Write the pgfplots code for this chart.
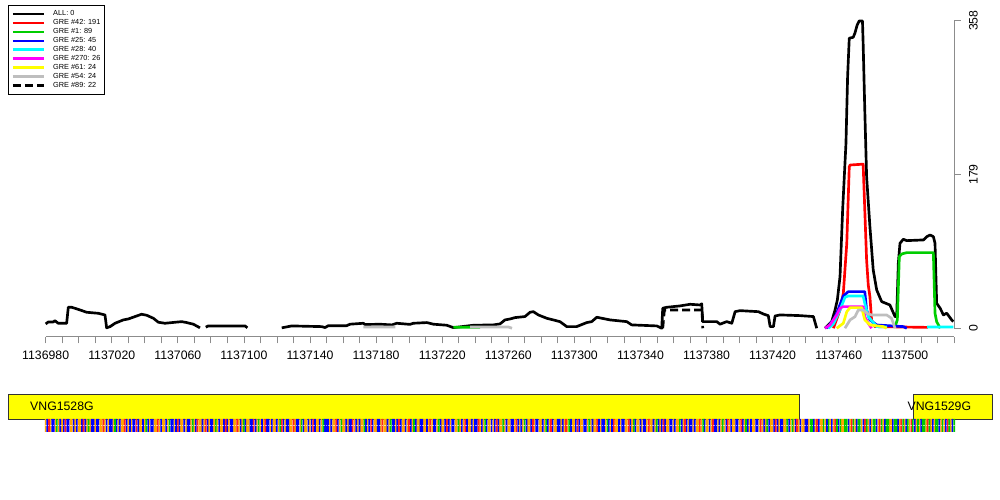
\documentclass[border=0pt]{standalone}
\usepackage{fontspec}
\setmainfont{Liberation Sans}
\usepackage{pgfplots}
\usepackage{pgfplotstable}
\pgfplotsset{compat=1.18}
\definecolor{axisgray}{HTML}{8C8C8C}
\definecolor{rred}{HTML}{FF0000}
\definecolor{rgreen}{HTML}{00CD00}
\definecolor{rblue}{HTML}{0000FF}
\definecolor{rcyan}{HTML}{00FFFF}
\definecolor{rmagenta}{HTML}{FF00FF}
\definecolor{ryellow}{HTML}{FFFF00}
\definecolor{rgray}{HTML}{BEBEBE}
\definecolor{seqG}{HTML}{FFA500}
\definecolor{seqC}{HTML}{0000FF}
\definecolor{seqT}{HTML}{FF2020}
\definecolor{seqA}{HTML}{00C800}
% sequence strip: 1=G (orange), 2=C (blue), 3=T (red), 4=A (green)
\pgfplotstableread[row sep=\\]{c\\
1\\2\\3\\1\\2\\2\\1\\4\\1\\2\\
1\\2\\3\\2\\2\\1\\1\\2\\1\\2\\
1\\1\\2\\3\\2\\1\\4\\1\\2\\2\\
1\\2\\2\\1\\1\\3\\1\\2\\1\\2\\
2\\1\\4\\2\\1\\2\\1\\1\\3\\2\\
1\\2\\1\\2\\2\\3\\2\\1\\1\\2\\
1\\4\\2\\1\\2\\2\\1\\1\\3\\1\\
2\\1\\1\\2\\1\\4\\2\\2\\1\\2\\
3\\2\\1\\1\\2\\1\\2\\2\\1\\4\\
1\\2\\3\\1\\1\\2\\1\\3\\2\\1\\
2\\2\\1\\4\\1\\2\\1\\1\\2\\3\\
2\\1\\2\\2\\1\\1\\3\\1\\2\\1\\
4\\2\\1\\1\\2\\2\\3\\2\\1\\4\\
1\\2\\1\\3\\2\\2\\1\\2\\1\\1\\
2\\1\\4\\3\\2\\1\\2\\2\\1\\1\\
3\\1\\2\\2\\1\\4\\2\\1\\1\\2\\
1\\2\\3\\2\\1\\1\\2\\1\\4\\2\\
2\\2\\1\\2\\1\\1\\3\\2\\1\\4\\
1\\1\\2\\1\\2\\2\\3\\1\\2\\1\\
2\\1\\1\\4\\2\\1\\2\\3\\2\\1\\
1\\2\\2\\1\\3\\1\\1\\2\\1\\4\\
2\\2\\1\\2\\3\\2\\1\\1\\2\\1\\
3\\2\\1\\4\\2\\1\\1\\2\\2\\1\\
1\\2\\1\\3\\1\\2\\2\\1\\4\\2\\
1\\1\\2\\3\\2\\1\\2\\2\\1\\1\\
4\\1\\2\\1\\3\\2\\1\\1\\2\\1\\
2\\2\\3\\1\\2\\1\\4\\2\\1\\1\\
2\\1\\2\\3\\2\\1\\1\\4\\1\\2\\
1\\1\\2\\2\\1\\3\\2\\1\\2\\1\\
4\\2\\1\\1\\2\\3\\1\\2\\2\\1\\
1\\2\\1\\4\\2\\1\\3\\2\\1\\1\\
2\\2\\1\\2\\1\\3\\1\\4\\2\\1\\
1\\2\\3\\2\\1\\1\\2\\2\\1\\4\\
1\\2\\1\\1\\3\\2\\1\\2\\2\\1\\
4\\2\\1\\2\\3\\1\\1\\2\\1\\2\\
2\\1\\1\\3\\2\\1\\4\\2\\1\\1\\
2\\1\\2\\2\\1\\3\\1\\1\\2\\1\\
4\\2\\1\\2\\3\\2\\1\\1\\2\\2\\
1\\2\\1\\1\\4\\2\\1\\3\\2\\1\\
2\\2\\1\\2\\1\\1\\3\\1\\4\\2\\
1\\1\\2\\1\\3\\2\\2\\1\\2\\1\\
4\\1\\2\\3\\1\\2\\1\\1\\2\\2\\
1\\3\\2\\1\\4\\2\\1\\2\\1\\1\\
2\\2\\1\\3\\1\\2\\1\\4\\2\\1\\
1\\2\\3\\2\\1\\2\\2\\1\\1\\4\\
2\\1\\4\\1\\2\\3\\1\\2\\1\\1\\
2\\2\\1\\4\\4\\2\\1\\3\\2\\1\\
1\\4\\1\\2\\4\\1\\2\\1\\3\\4\\
2\\4\\1\\1\\4\\4\\2\\1\\3\\4\\
1\\2\\4\\4\\1\\2\\3\\4\\1\\2\\
1\\4\\4\\2\\1\\3\\4\\1\\2\\4\\
4\\1\\1\\2\\4\\4\\2\\1\\3\\4\\
1\\2\\4\\1\\3\\4\\2\\1\\4\\1\\
2\\4\\4\\1\\3\\4\\1\\2\\1\\4\\
4\\2\\1\\4\\1\\2\\3\\4\\1\\2\\
4\\
}\seqtable
\begin{document}
\begin{tikzpicture}
\useasboundingbox[fill=white] (0,0) rectangle (750pt,375pt);
\begin{axis}[
  scale only axis, width=681.5pt, height=246pt,
  at={(34.25pt,122.5pt)}, anchor=south west,
  xmin=1136980, xmax=1137530, ymin=-9.8, ymax=372,
  scaled x ticks=false, scaled y ticks=false,
  axis x line*=bottom, axis y line*=right,
  x axis line style={-, draw=axisgray, line width=0.6pt},
  y axis line style={draw=none},
  tick align=outside,
  major tick length=5pt, minor tick length=5pt,
  tick style={axisgray, line width=0.6pt},
  xtick={1136980,1137020,1137060,1137100,1137140,1137180,1137220,1137260,1137300,1137340,1137380,1137420,1137460,1137500},
  xticklabels={1136980,1137020,1137060,1137100,1137140,1137180,1137220,1137260,1137300,1137340,1137380,1137420,1137460,1137500},
  minor xtick={1136990,1137000,1137010,1137030,1137040,1137050,1137070,1137080,1137090,1137110,1137120,1137130,1137150,1137160,1137170,1137190,1137200,1137210,1137230,1137240,1137250,1137270,1137280,1137290,1137310,1137320,1137330,1137350,1137360,1137370,1137390,1137400,1137410,1137430,1137440,1137450,1137470,1137480,1137490,1137510,1137520,1137530},
  ytick={0,179,358}, yticklabels={0,179,358},
  tick label style={font=\fontsize{9.2}{11}\selectfont, black},
  xticklabel style={yshift=-1.8pt},
  yticklabel style={rotate=90, anchor=north, yshift=-2.5pt},
  clip=false, unbounded coords=jump,
  legend cell align=left,
  legend image code/.code={\draw[line width=2pt] (0pt,0pt) -- (23.5pt,0pt);},
  legend style={at={(axis description cs:-0.0411,1.0114)}, anchor=north west,
    draw=black, fill=white,
    font=\fontsize{5.5}{6.6}\selectfont, inner xsep=2.2pt, inner ysep=3.3pt,
    row sep=0pt, nodes={inner sep=0.8pt, text height=4.0pt, text depth=1.1pt},
    /tikz/every odd column/.append style={column sep=5pt}},
  every axis plot/.append style={line width=2pt, line join=round},
]
\addplot[black] coordinates {
(1136980.0,5) (1136981.6,7.3) (1136984.6,7.3) (1136985.6,8.8) (1136987.6,5.8) (1136992.7,5.8) (1136993.7,24.4) (1136995.8,24.4) (1137000.8,21.3) (1137004.8,18.6) (1137011.9,17.4) (1137015.9,15.5) (1137016.9,0.5) (1137019.0,1.9) (1137022.0,5.8) (1137027.0,9.7) (1137030.0,10.8) (1137035.1,14.3) (1137038.1,16.3) (1137041.2,15.1) (1137045.2,11.6) (1137048.2,7) (1137052.2,5.8) (1137062.3,7.7) (1137065.4,6.6) (1137069.4,4.7) (1137073.4,0.5)
(1137075,nan)
(1137076.9,1.2) (1137078.4,2.7) (1137100.7,2.7) (1137102.1,0.5)
(1137110,nan)
(1137122.9,0.5) (1137124.9,1.2) (1137128.9,2.7) (1137147.1,1.9) (1137149.1,0.8) (1137151.1,3) (1137162.2,3) (1137164.2,4.7) (1137172.3,5.8) (1137173.3,4.3) (1137182.4,4.7) (1137189.5,3.9) (1137192.5,5.8) (1137200.5,4.5) (1137202.5,5.8) (1137210.7,6.6) (1137214.7,4.7) (1137222.8,3.5) (1137226.8,0.7) (1137238.9,3.5) (1137251.0,3.9) (1137255.0,5) (1137258.0,9.7) (1137261.1,10.8) (1137264.1,12.4) (1137270.1,13.6) (1137273.2,18.6) (1137275.2,19.3) (1137278.2,15.5) (1137283.3,11.6) (1137291.3,7.7) (1137295.4,1.9) (1137301.4,1.9) (1137307.5,6.6) (1137310.5,7.7) (1137313.6,12.8) (1137321.6,9.7) (1137331.7,7.7) (1137334.7,3.9) (1137349.9,2.7) (1137352.9,0) (1137353.5,23.3) (1137355.9,24.4) (1137364.0,26) (1137370.0,27.9) (1137376.1,27.1) (1137377.1,28.5) (1137377.7,7.7) (1137386.2,7.7) (1137388.2,4.7) (1137392.2,7.7) (1137395.3,5.8) (1137397.3,19.3) (1137400.3,20.5) (1137411.4,19.3) (1137414.4,16.6) (1137417.4,14.7) (1137418.5,1.9) (1137420.5,1.9) (1137421.5,14.3) (1137424.5,15.5) (1137436.6,14.7) (1137444.7,13.6) (1137446.7,0)
(1137449,nan)
(1137451.7,0) (1137452.8,2) (1137455.8,8) (1137457.8,21.3) (1137459.2,33) (1137460.8,60) (1137462.4,138) (1137464.4,215) (1137465.4,293) (1137466.4,337.6) (1137468.8,338.7) (1137469.8,343.4) (1137471.2,353) (1137472.4,357.7) (1137474.4,357.7) (1137474.8,331.8) (1137475.8,254) (1137476.9,176.5) (1137478.9,118.3) (1137480.9,67.9) (1137483.0,44.6) (1137486.0,31) (1137491.0,27.1) (1137494.1,13.5) (1137495.1,13.5) (1137496.1,75.7) (1137497.1,98.9) (1137499.1,103.6) (1137501.2,102) (1137511.3,102.8) (1137513.3,106.6) (1137515.3,108.6) (1137517.3,106.6) (1137518.3,98.9) (1137519.3,29.1) (1137521.4,23.3) (1137523.4,15.5) (1137525.4,17.5) (1137528.4,9.7) (1137529.4,7.7)
};
\addlegendentry{ALL: 0}
\addplot[rred] coordinates {
(1137456.8,0) (1137460.8,21.3) (1137462.8,40.7) (1137464.9,98.9) (1137466.4,188) (1137466.9,190) (1137474.8,191) (1137475.8,137.7) (1137476.9,79.5) (1137477.9,50.4) (1137478.9,36.8) (1137479.9,9.7) (1137481.9,1.9) (1137514.0,1)
};
\addlegendentry{GRE \#42: 191}
\addplot[rgreen] coordinates {
(1137226.8,1.2) (1137242.9,1.2)
(1137300,nan)
(1137494.1,1.9) (1137495.5,9.7) (1137496.7,83.4) (1137498.2,86.5) (1137501.2,88) (1137517.3,88) (1137518.3,17.5) (1137519.3,7.7) (1137521.4,0)
};
\addlegendentry{GRE \#1: 89}
\addplot[rblue] coordinates {
(1137452.8,0) (1137456.8,9.7) (1137458.8,17.5) (1137462.8,37.6) (1137465.8,42.6) (1137475.8,42.6) (1137476.9,21.3) (1137478.9,9.7) (1137483.0,3.8) (1137499.1,1.9) (1137501.2,0)
};
\addlegendentry{GRE \#25: 45}
\addplot[rcyan] coordinates {
(1137453.8,0) (1137456.8,5) (1137460.8,21.3) (1137463.8,36) (1137465.8,37.6) (1137474.8,37.6) (1137475.8,29) (1137477.9,13.5) (1137483.0,1.9) (1137489.3,1.5)
(1137500,nan)
(1137513.5,1.5) (1137529.4,1.5)
};
\addlegendentry{GRE \#28: 40}
\addplot[rmagenta] coordinates {
(1137451.7,0) (1137454.7,3.8) (1137458.8,15.5) (1137460.8,23.3) (1137462.8,25.2) (1137474.8,25.2) (1137475.8,13.5) (1137477.9,5.8) (1137479.9,0)
};
\addlegendentry{GRE \#270: 26}
\addplot[ryellow] coordinates {
(1137458.8,0) (1137462.8,5.8) (1137464.9,19.3) (1137466.9,24) (1137473.9,24) (1137475.8,9.7) (1137478.9,3.8) (1137487.0,1.9) (1137489.0,0)
};
\addlegendentry{GRE \#61: 24}
\addplot[rgray] coordinates {
(1137172.3,1.5) (1137191.6,1.5)
(1137200,nan)
(1137236.9,1.5) (1137260.0,1.5) (1137262.3,0)
(1137400,nan)
(1137463.8,0) (1137466.9,9.7) (1137469.9,13.5) (1137471.9,21.3) (1137474.8,21.3) (1137477.9,16.6) (1137479.9,15.5) (1137489.0,15.5) (1137492.0,11.6) (1137494.1,0)
};
\addlegendentry{GRE \#54: 24}
\addplot[black, dash pattern=on 6pt off 3pt] coordinates {
(1137353.5,0) (1137354.5,21.3) (1137377.3,21.3) (1137377.7,0)
};
\addlegendentry{GRE \#89: 22}
\draw[axisgray, line width=0.6pt] (axis cs:1137530,0) -- (axis cs:1137530,358);
\end{axis}
\begin{axis}[
  scale only axis, width=681.5pt, height=30pt,
  at={(34.25pt,51.15pt)}, anchor=south west,
  xmin=1136980, xmax=1137530, ymin=0, ymax=1,
  axis lines=none, clip=false,
]
\addplot[draw=black!80, line width=0.6pt, fill=ryellow] coordinates {
(1136957.4,0.32) (1137436.2,0.32) (1137436.2,0.945) (1136957.4,0.945)} -- cycle;
\addplot[draw=black!80, line width=0.6pt, fill=ryellow] coordinates {
(1137505.2,0.32) (1137553.0,0.32) (1137553.0,0.945) (1137505.2,0.945)} -- cycle;
\addplot[ybar, bar shift=0pt, bar width=1, draw=none, fill=seqG, restrict y to domain=0.1:1]
  table[x index=0, y index=0, x expr=\coordindex+1136980, y expr={0.32*(\thisrow{c}==1)}] {\seqtable};
\addplot[ybar, bar shift=0pt, bar width=1, draw=none, fill=seqC, restrict y to domain=0.1:1]
  table[x index=0, y index=0, x expr=\coordindex+1136980, y expr={0.32*(\thisrow{c}==2)}] {\seqtable};
\addplot[ybar, bar shift=0pt, bar width=1, draw=none, fill=seqT, restrict y to domain=0.1:1]
  table[x index=0, y index=0, x expr=\coordindex+1136980, y expr={0.32*(\thisrow{c}==3)}] {\seqtable};
\addplot[ybar, bar shift=0pt, bar width=1, draw=none, fill=seqA, restrict y to domain=0.1:1]
  table[x index=0, y index=0, x expr=\coordindex+1136980, y expr={0.32*(\thisrow{c}==4)}] {\seqtable};
\addplot[white, opacity=0.6, line width=0.5pt, dash pattern=on 0.6pt off 0.64pt] coordinates {(1136979.5,0.16) (1137530.5,0.16)};
\node[anchor=base west, font=\fontsize{9.2}{11}\selectfont, inner sep=0pt] at (axis cs:1136970.5,0.5275) {VNG1528G};
\node[anchor=base west, font=\fontsize{9.2}{11}\selectfont, inner sep=0pt] at (axis cs:1137501.6,0.5275) {VNG1529G};
\end{axis}
\end{tikzpicture}
\end{document}
